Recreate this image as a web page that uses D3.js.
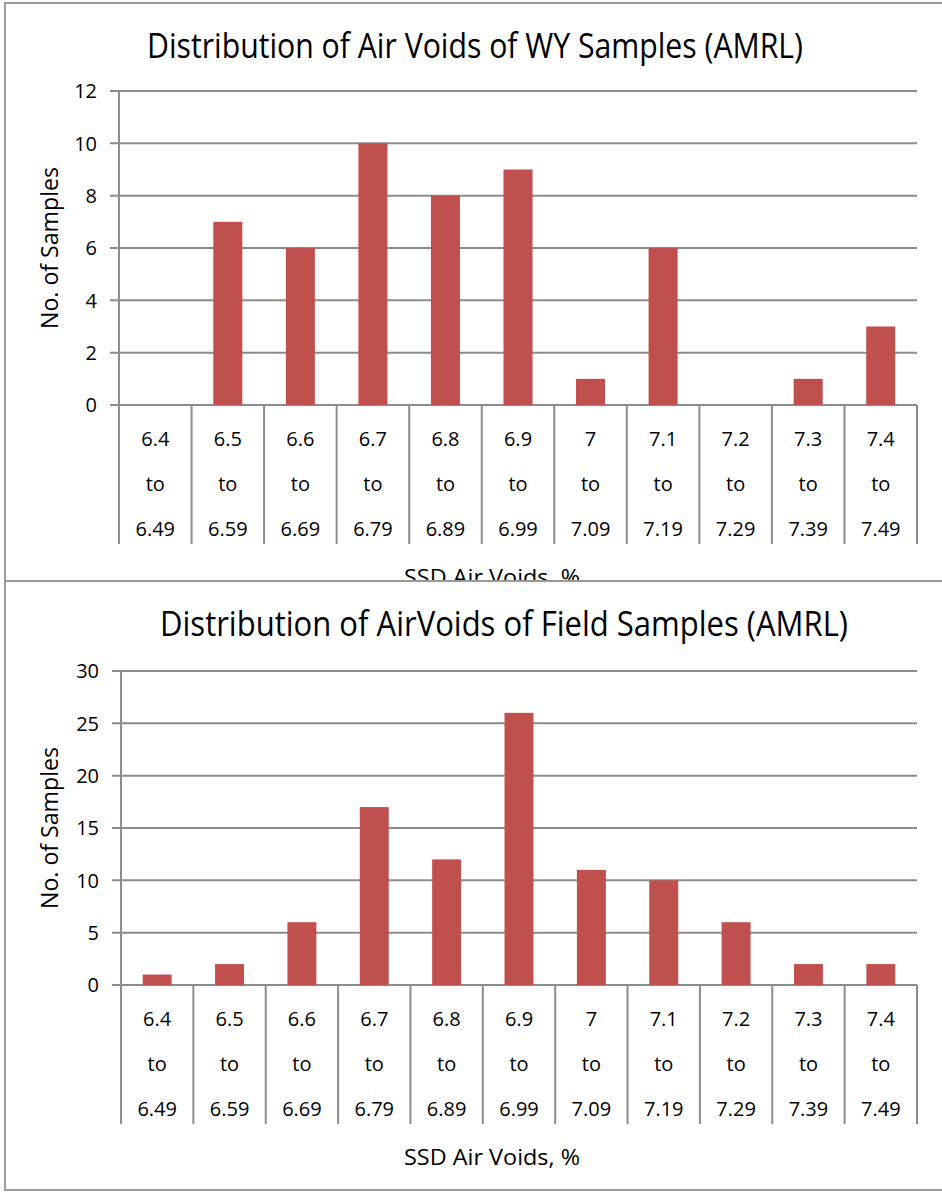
<!DOCTYPE html>
<html>
<head>
<meta charset="utf-8">
<script src="https://d3js.org/d3.v7.min.js"></script>
<style>
  body { margin: 0; background: #fff; }
  svg { display: block; }
  text { font-family: "Open Sans", "Noto Sans", sans-serif; fill: #000; }
</style>
</head>
<body>
<div id="chart"></div>
<script>
// Bins of SSD air voids (%), shown as three stacked lines
const binStart = ["6.4", "6.5", "6.6", "6.7", "6.8", "6.9", "7", "7.1", "7.2", "7.3", "7.4"];
const binEnd = ["6.49", "6.59", "6.69", "6.79", "6.89", "6.99", "7.09", "7.19", "7.29", "7.39", "7.49"];

// Counts per bin
const wyCounts = [0, 7, 6, 10, 8, 9, 1, 6, 0, 1, 3];
const fieldCounts = [1, 2, 6, 17, 12, 26, 11, 10, 6, 2, 2];

const wyTicks = [0, 2, 4, 6, 8, 10, 12];
const fieldTicks = [0, 5, 10, 15, 20, 25, 30];

const W = 942, H = 1193;
const svg = d3.select('#chart').append('svg')
    .attr('width', W)
    .attr('height', H);

const bars = '#C0504D';
const grid = '#8c8c8c';

function drawChart(opts) {
    const { top, bottom, title, titleX, titleW, counts, ticks, plotTop, plotLeft, yMax } = opts;

    const panel = svg.append('g');
    panel.append('rect')
        .attr('x', 5).attr('y', top)
        .attr('width', W + 10).attr('height', bottom - top)
        .attr('fill', '#fff')
        .attr('stroke', '#9a9a9a')
        .attr('stroke-width', 2);

    const clipId = 'clip' + top;
    svg.append('clipPath').attr('id', clipId)
        .append('rect').attr('x', 5).attr('y', top).attr('width', W).attr('height', bottom - top);
    const g = panel.append('g').attr('clip-path', `url(#${clipId})`);

    const x = d3.scaleBand()
        .domain(d3.range(counts.length))
        .range([plotLeft, 917])
        .padding(0);

    const zeroY = plotTop + 314;
    const y = d3.scaleLinear().domain([0, yMax]).range([zeroY, plotTop]);

    // title
    g.append('text')
        .attr('x', titleX).attr('y', top + 55)
        .attr('font-size', 34)
        .attr('textLength', titleW)
        .attr('lengthAdjust', 'spacingAndGlyphs')
        .text(title);

    // gridlines + ticks
    g.append('g').selectAll('line')
        .data(ticks)
        .join('line')
        .attr('x1', plotLeft - 9).attr('x2', 917)
        .attr('y1', d => y(d)).attr('y2', d => y(d))
        .attr('stroke', grid)
        .attr('stroke-width', 2);

    g.append('g').selectAll('text')
        .data(ticks)
        .join('text')
        .attr('x', plotLeft - 22)
        .attr('y', d => y(d))
        .attr('dy', '0.36em')
        .attr('text-anchor', 'end')
        .attr('font-size', 20)
        .text(d => d);

    // y axis line
    g.append('line')
        .attr('x1', plotLeft).attr('x2', plotLeft)
        .attr('y1', plotTop).attr('y2', zeroY)
        .attr('stroke', grid).attr('stroke-width', 2);

    // bars
    const bw = x.bandwidth() * 0.4;
    g.append('g').selectAll('rect')
        .data(counts)
        .join('rect')
        .attr('x', (d, i) => x(i) + (x.bandwidth() - bw) / 2)
        .attr('y', d => y(d))
        .attr('width', bw)
        .attr('height', d => y(0) - y(d))
        .attr('fill', bars);

    // category separators
    const bounds = d3.range(counts.length + 1).map(i => i < counts.length ? x(i) : x(counts.length - 1) + x.bandwidth());
    g.append('g').selectAll('line')
        .data(bounds)
        .join('line')
        .attr('x1', d => d).attr('x2', d => d)
        .attr('y1', zeroY).attr('y2', zeroY + 139)
        .attr('stroke', grid).attr('stroke-width', 2);

    // category labels
    const lab = g.append('g').selectAll('g')
        .data(counts.map((d, i) => i))
        .join('g')
        .attr('transform', i => `translate(${x(i) + x.bandwidth() / 2},${zeroY})`);
    const rows = [d => binStart[d], () => 'to', d => binEnd[d]];
    rows.forEach((f, k) => {
        lab.append('text')
            .attr('y', 34 + k * 45)
            .attr('dy', '0.36em')
            .attr('text-anchor', 'middle')
            .attr('font-size', 20)
            .text(f);
    });

    // axis titles
    g.append('text')
        .attr('x', 492).attr('y', zeroY + 180)
        .attr('text-anchor', 'middle')
        .attr('font-size', 22)
        .attr('textLength', 176)
        .attr('lengthAdjust', 'spacingAndGlyphs')
        .text('SSD Air Voids, %');

    g.append('text')
        .attr('transform', `translate(58,${(plotTop + zeroY) / 2}) rotate(-90)`)
        .attr('text-anchor', 'middle')
        .attr('font-size', 24)
        .attr('textLength', 162)
        .attr('lengthAdjust', 'spacingAndGlyphs')
        .text('No. of Samples');
}

drawChart({
    top: 3, bottom: 1190,
    title: 'Distribution of Air Voids of WY Samples (AMRL)',
    titleX: 147, titleW: 656,
    counts: wyCounts, ticks: wyTicks,
    plotTop: 91, plotLeft: 119, yMax: 12
});

drawChart({
    top: 581, bottom: 1190,
    title: 'Distribution of AirVoids of Field Samples (AMRL)',
    titleX: 160, titleW: 688,
    counts: fieldCounts, ticks: fieldTicks,
    plotTop: 671, plotLeft: 121, yMax: 30
});
</script>
</body>
</html>
